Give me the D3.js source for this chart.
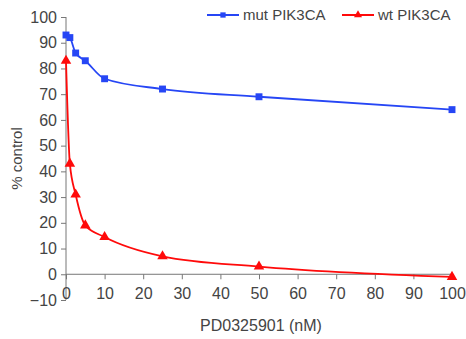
<!DOCTYPE html>
<html>
<head>
<meta charset="utf-8">
<script src="https://cdn.jsdelivr.net/npm/d3@7"></script>
<style>
  body { margin: 0; background: #fff; }
  text { font-family: "Liberation Sans", Arial, sans-serif; fill: #444; }
</style>
</head>
<body>
<svg id="chart" width="466" height="339"></svg>
<script>
// doses (nM)
var doses = [0, 1, 2.5, 5, 10, 25, 50, 100];
var mutValues = [93, 92, 86, 83, 76, 72, 69, 64];
var wtValues = [83, 43, 31, 19, 14.5, 7, 3, -1];
var xTicks = [0, 10, 20, 30, 40, 50, 60, 70, 80, 90, 100];
var yTicks = [-10, 0, 10, 20, 30, 40, 50, 60, 70, 80, 90, 100];

var series = [
  { name: "mut PIK3CA", values: mutValues, color: "#2646f5", symbol: d3.symbolSquare },
  { name: "wt PIK3CA", values: wtValues, color: "#ff0a0a", symbol: d3.symbolTriangle }
];

var svg = d3.select("#chart");

var x = d3.scaleLinear().domain([0, 100]).range([66, 452]);
var y = d3.scaleLinear().domain([-10, 100]).range([300, 17]);

// y axis
var yAxis = svg.append("g")
  .attr("transform", "translate(" + x(0) + ",0)")
  .call(d3.axisLeft(y).tickValues(yTicks).tickSize(5).tickPadding(4));
yAxis.select(".domain").attr("stroke", "#777").attr("d", "M0," + y(100) + "V" + y(-10));
yAxis.selectAll(".tick line").attr("stroke", "#777");
yAxis.selectAll(".tick text").style("font-size", "16px").attr("fill", "#444");

// x axis sits at zero
var xAxis = svg.append("g")
  .attr("transform", "translate(0," + y(0) + ")")
  .call(d3.axisBottom(x).tickValues(xTicks).tickSize(5).tickPadding(8));
xAxis.select(".domain").attr("stroke", "#777").attr("d", "M" + x(0) + ",0H" + x(100));
xAxis.selectAll(".tick line").attr("stroke", "#777");
xAxis.selectAll(".tick text").style("font-size", "16px").attr("fill", "#444");

// labels
svg.append("text")
  .attr("x", 261).attr("y", 331)
  .attr("text-anchor", "middle")
  .style("font-size", "16px")
  .text("PD0325901 (nM)");

svg.append("text")
  .attr("transform", "translate(22," + y(45) + ") rotate(-90)")
  .attr("text-anchor", "middle")
  .style("font-size", "15px")
  .text("% control");

var line = d3.line()
  .x(function(d) { return x(d[0]); })
  .y(function(d) { return y(d[1]); })
  .curve(d3.curveMonotoneX);

series.forEach(function(s) {
  var pts = doses.map(function(d, i) { return [d, s.values[i]]; });
  svg.append("path")
    .datum(pts)
    .attr("fill", "none")
    .attr("stroke", s.color)
    .attr("stroke-width", 1.8)
    .attr("d", line);
  svg.append("g").selectAll("path")
    .data(pts)
    .join("path")
    .attr("transform", function(d) { return "translate(" + x(d[0]) + "," + y(d[1]) + ")"; })
    .attr("d", d3.symbol().type(s.symbol).size(48))
    .attr("fill", s.color);
});

// legend
var legendPos = [207, 342];
series.forEach(function(s, i) {
  var g = svg.append("g").attr("transform", "translate(" + legendPos[i] + ",15)");
  g.append("line").attr("x1", 0).attr("x2", 32).attr("stroke", s.color).attr("stroke-width", 2);
  g.append("path").attr("transform", "translate(16,0)")
    .attr("d", d3.symbol().type(s.symbol).size(28)).attr("fill", s.color);
  g.append("text").attr("x", 36).attr("y", 5).style("font-size", "15px").text(s.name);
});
</script>
</body>
</html>
